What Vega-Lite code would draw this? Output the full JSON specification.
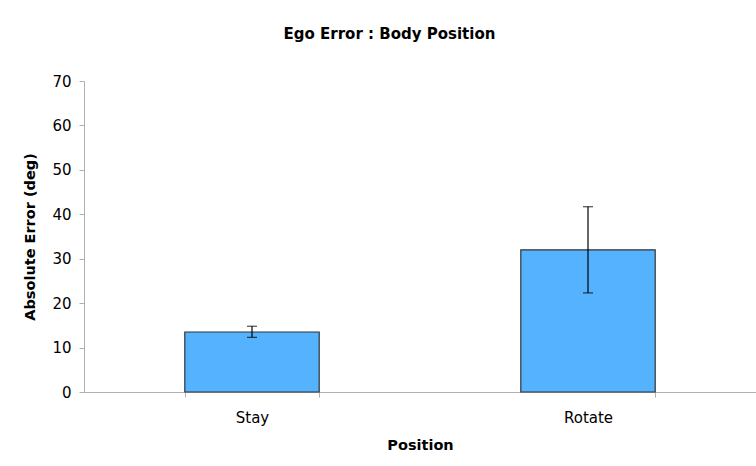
{
  "$schema": "https://vega.github.io/schema/vega-lite/v6.json",
  "width": 672,
  "height": 311,
  "autosize": {"type": "none"},
  "padding": {"left": 84, "top": 81, "right": 0, "bottom": 74},
  "background": "white",
  "title": {
    "text": "Ego Error : Body Position",
    "font": "DejaVu Sans",
    "fontSize": 15,
    "fontWeight": "bold",
    "color": "black",
    "anchor": "middle",
    "frame": "bounds",
    "offset": 32
  },
  "config": {
    "view": {"stroke": null},
    "axis": {
      "labelFont": "DejaVu Sans",
      "titleFont": "DejaVu Sans",
      "labelFontSize": 15,
      "titleFontSize": 14.5,
      "labelColor": "black",
      "titleColor": "black",
      "titleFontWeight": "bold",
      "domainColor": "#b0b0b0",
      "tickColor": "#b0b0b0",
      "grid": false
    }
  },
  "data": {
    "values": [
      {"Position": "Stay", "Error": 13.5, "Lo": 12.3, "Hi": 14.8},
      {"Position": "Rotate", "Error": 32.0, "Lo": 22.3, "Hi": 41.7}
    ]
  },
  "encoding": {
    "x": {
      "field": "Position",
      "type": "nominal",
      "sort": ["Stay", "Rotate"],
      "scale": {"paddingInner": 0.6, "paddingOuter": 0.3},
      "axis": {
        "labelAngle": 0,
        "labelPadding": 13,
        "titlePadding": 13,
        "tickBand": "extent",
        "tickSize": 5,
        "title": "Position"
      }
    }
  },
  "layer": [
    {
      "mark": {"type": "bar", "color": "#55b2ff", "stroke": "#333333", "strokeWidth": 1.2},
      "encoding": {
        "y": {
          "field": "Error",
          "type": "quantitative",
          "scale": {"domain": [0, 70], "nice": false},
          "axis": {
            "values": [0, 10, 20, 30, 40, 50, 60, 70],
            "tickSize": 5,
            "labelPadding": 8,
            "titlePadding": 14,
            "title": "Absolute Error (deg)"
          }
        }
      }
    },
    {
      "mark": {"type": "rule", "color": "black", "strokeWidth": 1.2},
      "encoding": {
        "y": {"field": "Lo", "type": "quantitative"},
        "y2": {"field": "Hi"}
      }
    },
    {
      "mark": {"type": "tick", "color": "black", "orient": "horizontal", "size": 10, "thickness": 1.2},
      "encoding": {"y": {"field": "Lo", "type": "quantitative"}}
    },
    {
      "mark": {"type": "tick", "color": "black", "orient": "horizontal", "size": 10, "thickness": 1.2},
      "encoding": {"y": {"field": "Hi", "type": "quantitative"}}
    }
  ]
}
